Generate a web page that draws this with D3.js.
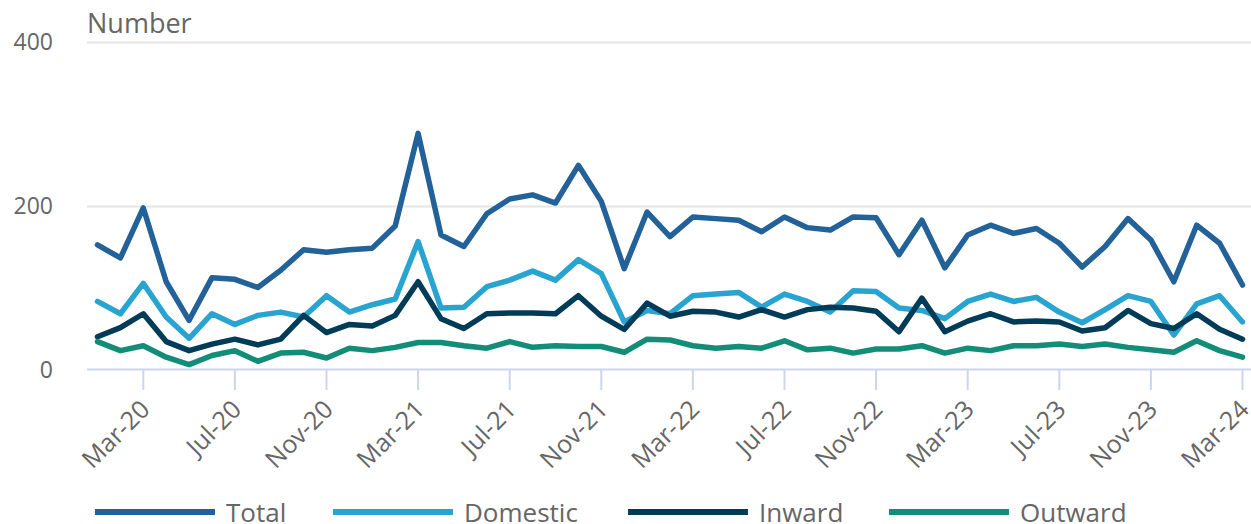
<!DOCTYPE html>
<html>
<head>
<meta charset="utf-8">
<script src="https://cdn.jsdelivr.net/npm/d3@7"></script>
<style>
  html, body { margin: 0; padding: 0; background: #fff; }
  svg { display: block; font-family: "Open Sans", sans-serif; }
</style>
</head>
<body>
<div id="chart"></div>
<script>
// monthly, Jan-20 .. Mar-24
const months = d3.timeMonth.range(new Date(2020, 0, 1), new Date(2024, 3, 1));
const tickLabels = ['Mar-20','Jul-20','Nov-20','Mar-21','Jul-21','Nov-21','Mar-22','Jul-22','Nov-22','Mar-23','Jul-23','Nov-23','Mar-24'];
const yTicks = [0, 200, 400];

const total = [152,136,197,107,60,112,110,100,121,146,143,146,148,175,288,
    164,150,190,208,213,203,249,205,123,192,162,186,184,182,168,
    186,173,170,186,185,140,182,124,164,176,166,172,154,125,150,184,158,107,176,154,103];
const domestic = [83,68,105,64,38,68,55,66,70,64,90,70,79,86,156,
    75,76,101,109,120,109,134,117,58,72,68,90,92,94,76,
    92,83,70,96,95,75,72,62,83,92,83,88,70,57,73,90,83,42,80,90,58];
const inward = [40,51,68,34,23,31,37,30,37,66,45,55,53,66,107,
    62,50,68,69,69,68,90,65,49,81,65,71,70,64,73,
    64,73,76,75,71,46,87,46,59,68,58,59,58,47,51,72,56,50,68,49,37];
const outward = [34,23,29,15,6,17,23,10,20,21,14,26,23,27,33,
    33,29,26,34,27,29,28,28,21,37,36,29,26,28,26,
    35,24,26,20,25,25,29,20,26,23,29,29,31,28,31,27,24,21,35,23,15];

const seriesNames = ['Total', 'Domestic', 'Inward', 'Outward'];
const seriesValues = [total, domestic, inward, outward];
const colors = ['#236199', '#29a4d0', '#003b57', '#138d78'];

const W = 1251, H = 524;
const fmt = d3.timeFormat('%b-%y');
const labels = months.map(fmt);

const svg = d3.select('#chart').append('svg')
    .attr('width', W).attr('height', H);

const x = d3.scalePoint().domain(labels).range([97.5, 1242.5]);
const y = d3.scaleLinear().domain([0, 400]).range([369.5, 41.5]);

// grid
svg.append('g').selectAll('line').data(yTicks.filter(d => d > 0)).join('line')
    .attr('x1', 87).attr('x2', W)
    .attr('y1', d => Math.round(y(d)) + 0.5).attr('y2', d => Math.round(y(d)) + 0.5)
    .attr('stroke', '#e6e6e6').attr('stroke-width', 2);

// y labels
svg.append('g').selectAll('text').data(yTicks).join('text')
    .attr('x', 53).attr('y', d => y(d))
    .attr('dy', '0.35em')
    .attr('text-anchor', 'end')
    .attr('fill', '#666').style('font-size', '23px')
    .text(d => d);

svg.append('text')
    .attr('x', 87).attr('y', 33)
    .attr('fill', '#666').style('font-size', '27px')
    .text('Number');

// x axis
const xg = svg.append('g');
xg.append('line')
    .attr('x1', 87).attr('x2', W)
    .attr('y1', 369.5).attr('y2', 369.5)
    .attr('stroke', '#ccd6eb').attr('stroke-width', 2);
const ticks = xg.selectAll('g.tick').data(tickLabels).join('g')
    .attr('class', 'tick')
    .attr('transform', d => 'translate(' + x(d) + ',0)');
ticks.append('line')
    .attr('y1', 369.5).attr('y2', 390)
    .attr('stroke', '#ccd6eb').attr('stroke-width', 2);
ticks.append('text')
    .attr('text-anchor', 'end')
    .attr('transform', 'translate(8,411) rotate(-45)')
    .attr('fill', '#666').style('font-size', '25px')
    .text(d => d);

// lines
const line = d3.line()
    .x((d, i) => x(labels[i]))
    .y(d => y(d));

svg.append('g').selectAll('path').data(seriesValues).join('path')
    .attr('d', line)
    .attr('fill', 'none')
    .attr('stroke', (d, i) => colors[i])
    .attr('stroke-width', 5.5)
    .attr('stroke-linejoin', 'round')
    .attr('stroke-linecap', 'round');

// legend
const legendX = [95, 333, 628, 889];
const leg = svg.append('g').selectAll('g').data(seriesNames).join('g')
    .attr('transform', (d, i) => 'translate(' + legendX[i] + ',512)');
leg.append('line')
    .attr('x1', 0).attr('x2', 120)
    .attr('stroke', (d, i) => colors[i])
    .attr('stroke-width', 6);
leg.append('text')
    .attr('x', 131).attr('y', 10)
    .attr('fill', '#666').style('font-size', '26px')
    .text(d => d);
</script>
</body>
</html>
